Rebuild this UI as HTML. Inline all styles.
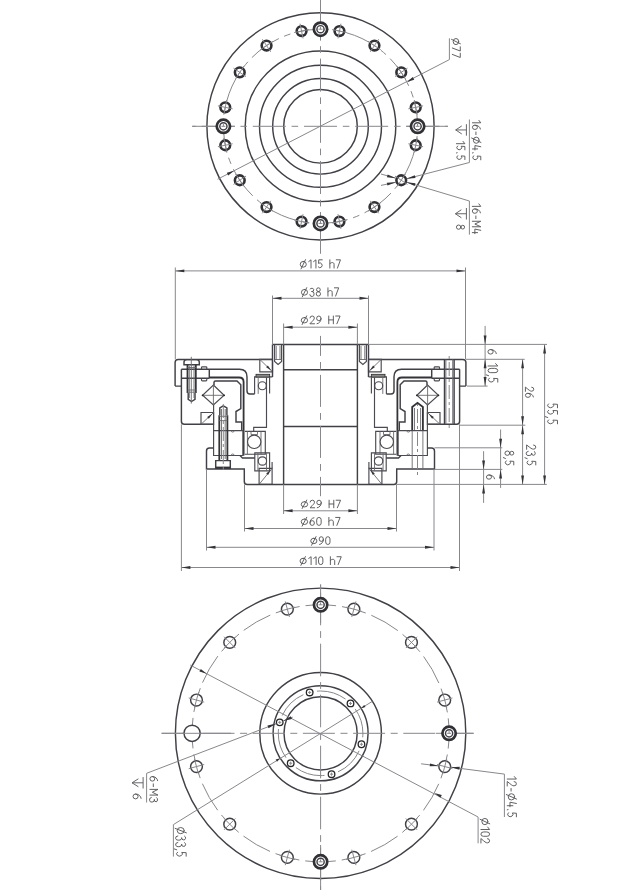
<!DOCTYPE html>
<html><head><meta charset="utf-8"><style>
html,body{margin:0;padding:0;background:#fff;}
svg{display:block;}
.k{stroke:#404046;stroke-width:1.45;fill:none;}
.k2{stroke:#333338;stroke-width:1.8;fill:none;}
.thin{stroke:#88888c;stroke-width:1.0;fill:none;}
.k1{stroke:#4a4a50;stroke-width:1.15;fill:none;}
.tk{stroke:#6a6a6e;stroke-width:0.9;fill:none;}
.thin2{stroke:#66666a;stroke-width:1.0;fill:none;}
.cl{stroke:#88888c;stroke-width:1.0;fill:none;}
.bc{stroke:#88888c;stroke-width:1.0;fill:none;stroke-dasharray:16 4;}
.bc2{stroke:#444;stroke-width:0.8;fill:none;stroke-dasharray:10 3.5;}
.ring{stroke:#303035;stroke-width:2.6;fill:none;}
.ring2{stroke:#222;stroke-width:2.2;fill:none;}
.dot{fill:#222;stroke:none;}
.ar{fill:#333338;stroke:none;}
.t{font-family:"Liberation Sans",sans-serif;fill:#505050;}
.sf path{fill:none;stroke:#58585c;stroke-width:0.95;vector-effect:non-scaling-stroke;stroke-linecap:round;stroke-linejoin:round;}
</style></head><body>
<svg width="629" height="890" viewBox="0 0 629 890">
<circle class="k" cx="320.5" cy="126.3" r="113.6"/>
<circle class="k" cx="320.5" cy="126.3" r="75.3"/>
<circle class="k" cx="320.5" cy="126.3" r="61"/>
<circle class="k" cx="320.5" cy="126.3" r="47.8"/>
<circle class="k" cx="320.5" cy="126.3" r="36.8"/>
<circle class="thin" cx="320.5" cy="126.3" r="97.1" stroke-dasharray="33 5.8 6.6 5.8" stroke-dashoffset="28.83"/>
<line class="cl" x1="192.2" y1="126.3" x2="447.9" y2="126.3" stroke-dasharray="33 5.8 6.6 5.8" stroke-dashoffset="41.8"/>
<line class="thin" x1="192.2" y1="126.3" x2="235" y2="126.3"/>
<line class="thin" x1="406" y1="126.3" x2="447.9" y2="126.3"/>
<line class="cl" x1="320.5" y1="0" x2="320.5" y2="253.4" stroke-dasharray="33 5.8 6.6 5.8" stroke-dashoffset="43.8"/>
<line class="thin" x1="320.5" y1="0" x2="320.5" y2="40.4"/>
<line class="thin" x1="320.5" y1="212" x2="320.5" y2="253.4"/>
<line class="thin" x1="217.61" y1="179.22" x2="449.4" y2="59.6"/>
<line class="thin" x1="449.4" y1="59.6" x2="449.4" y2="38.3"/>
<path class="ar" d="M234.15 170.71 L228.17 175.48 L226.8 172.81 Z"/>
<path class="ar" d="M406.85 81.89 L412.83 77.12 L414.2 79.79 Z"/>
<circle class="ring" cx="339.44" cy="31.07" r="4.85"/>
<line class="thin" x1="337.98" y1="38.42" x2="340.91" y2="23.71"/>
<line class="thin" x1="332.09" y1="29.6" x2="346.8" y2="32.53"/>
<circle class="ring" cx="374.45" cy="45.56" r="4.85"/>
<line class="thin" x1="370.28" y1="51.8" x2="378.61" y2="39.33"/>
<line class="thin" x1="368.21" y1="41.4" x2="380.68" y2="49.73"/>
<circle class="ring" cx="401.24" cy="72.35" r="4.85"/>
<line class="thin" x1="395" y1="76.52" x2="407.47" y2="68.19"/>
<line class="thin" x1="397.07" y1="66.12" x2="405.4" y2="78.59"/>
<circle class="ring" cx="415.73" cy="107.36" r="4.85"/>
<line class="thin" x1="408.38" y1="108.82" x2="423.09" y2="105.89"/>
<line class="thin" x1="414.27" y1="100" x2="417.2" y2="114.71"/>
<circle class="ring" cx="415.73" cy="145.24" r="4.85"/>
<line class="thin" x1="408.38" y1="143.78" x2="423.09" y2="146.71"/>
<line class="thin" x1="417.2" y1="137.89" x2="414.27" y2="152.6"/>
<circle class="ring" cx="401.24" cy="180.25" r="4.85"/>
<line class="thin" x1="395" y1="176.08" x2="407.47" y2="184.41"/>
<line class="thin" x1="405.4" y1="174.01" x2="397.07" y2="186.48"/>
<circle class="ring" cx="374.45" cy="207.04" r="4.85"/>
<line class="thin" x1="370.28" y1="200.8" x2="378.61" y2="213.27"/>
<line class="thin" x1="380.68" y1="202.87" x2="368.21" y2="211.2"/>
<circle class="ring" cx="339.44" cy="221.53" r="4.85"/>
<line class="thin" x1="337.98" y1="214.18" x2="340.91" y2="228.89"/>
<line class="thin" x1="346.8" y1="220.07" x2="332.09" y2="223"/>
<circle class="ring" cx="301.56" cy="221.53" r="4.85"/>
<line class="thin" x1="303.02" y1="214.18" x2="300.09" y2="228.89"/>
<line class="thin" x1="308.91" y1="223" x2="294.2" y2="220.07"/>
<circle class="ring" cx="266.55" cy="207.04" r="4.85"/>
<line class="thin" x1="270.72" y1="200.8" x2="262.39" y2="213.27"/>
<line class="thin" x1="272.79" y1="211.2" x2="260.32" y2="202.87"/>
<circle class="ring" cx="239.76" cy="180.25" r="4.85"/>
<line class="thin" x1="246" y1="176.08" x2="233.53" y2="184.41"/>
<line class="thin" x1="243.93" y1="186.48" x2="235.6" y2="174.01"/>
<circle class="ring" cx="225.27" cy="145.24" r="4.85"/>
<line class="thin" x1="232.62" y1="143.78" x2="217.91" y2="146.71"/>
<line class="thin" x1="226.73" y1="152.6" x2="223.8" y2="137.89"/>
<circle class="ring" cx="225.27" cy="107.36" r="4.85"/>
<line class="thin" x1="232.62" y1="108.82" x2="217.91" y2="105.89"/>
<line class="thin" x1="223.8" y1="114.71" x2="226.73" y2="100"/>
<circle class="ring" cx="239.76" cy="72.35" r="4.85"/>
<line class="thin" x1="246" y1="76.52" x2="233.53" y2="68.19"/>
<line class="thin" x1="235.6" y1="78.59" x2="243.93" y2="66.12"/>
<circle class="ring" cx="266.55" cy="45.56" r="4.85"/>
<line class="thin" x1="270.72" y1="51.8" x2="262.39" y2="39.33"/>
<line class="thin" x1="260.32" y1="49.73" x2="272.79" y2="41.4"/>
<circle class="ring" cx="301.56" cy="31.07" r="4.85"/>
<line class="thin" x1="303.02" y1="38.42" x2="300.09" y2="23.71"/>
<line class="thin" x1="294.2" y1="32.53" x2="308.91" y2="29.6"/>
<circle cx="320.5" cy="29.2" r="6.65" fill="#fff" stroke="#303035" stroke-width="2.7"/>
<circle class="k" cx="320.5" cy="29.2" r="3.6"/>
<line class="thin" x1="318.5" y1="29.2" x2="322.5" y2="29.2"/>
<line class="thin" x1="320.5" y1="26.7" x2="320.5" y2="29.2"/>
<circle cx="417.6" cy="126.3" r="6.65" fill="#fff" stroke="#303035" stroke-width="2.7"/>
<circle class="k" cx="417.6" cy="126.3" r="3.6"/>
<line class="thin" x1="415.6" y1="126.3" x2="419.6" y2="126.3"/>
<line class="thin" x1="417.6" y1="123.8" x2="417.6" y2="126.3"/>
<circle cx="320.5" cy="223.4" r="6.65" fill="#fff" stroke="#303035" stroke-width="2.7"/>
<circle class="k" cx="320.5" cy="223.4" r="3.6"/>
<line class="thin" x1="318.5" y1="223.4" x2="322.5" y2="223.4"/>
<line class="thin" x1="320.5" y1="220.9" x2="320.5" y2="223.4"/>
<circle cx="223.4" cy="126.3" r="6.65" fill="#fff" stroke="#303035" stroke-width="2.7"/>
<circle class="k" cx="223.4" cy="126.3" r="3.6"/>
<line class="thin" x1="221.4" y1="126.3" x2="225.4" y2="126.3"/>
<line class="thin" x1="223.4" y1="123.8" x2="223.4" y2="126.3"/>
<line class="thin" x1="406.74" y1="178.75" x2="469.4" y2="162.5"/>
<line class="thin" x1="469.4" y1="162.5" x2="469.4" y2="119.5"/>
<path class="ar" d="M406.44 178.85 L414.78 175.18 L415.51 177.99 Z"/>
<line class="thin" x1="406.74" y1="182.25" x2="469.4" y2="201"/>
<line class="thin" x1="469.4" y1="201" x2="469.4" y2="234.7"/>
<path class="ar" d="M406.44 182.15 L415.47 183.34 L414.64 186.12 Z"/>
<line class="thin" x1="381" y1="174" x2="395.94" y2="178.25"/>
<path class="ar" d="M395.94 178.25 L386.88 177.18 L387.68 174.39 Z"/>
<line class="thin" x1="381" y1="185.4" x2="395.94" y2="182.25"/>
<path class="ar" d="M395.94 182.25 L387.43 185.52 L386.83 182.69 Z"/>
<path class="thin2" d="M466.4 124.2 L466.4 135.7 M466.4 129.95 L455.7 129.95 M461.8 125.92 L455.7 129.95 L461.8 133.97"/>
<path class="thin2" d="M466.4 208 L466.4 219.5 M466.4 213.75 L455.4 213.75 M461.4 209.72 L455.4 213.75 L461.4 217.78"/>
<g id="half">
<path class="k" d="M175.1 386.1 L175.1 362.5 Q175.1 359.4 178.2 359.4 L272.5 359.4 M175.1 386.1 L181.4 386.1"/>
<path class="k" d="M181.4 369.3 L181.4 421.3 Q181.4 424.3 184.4 424.3 L214 424.3"/>
<path class="k" d="M181.4 369.3 L239.4 369.3 Q247 369.3 247 376.9 L247 391 Q247 393.9 250 393.9 L254.6 393.9"/>
<path class="k" d="M181.4 378.3 L209.3 378.3 M209.3 369.3 L209.3 378.3"/>
<path class="k2" d="M209.3 377.5 L239.1 377.5 Q243.6 377.5 243.6 382 L243.6 455.5"/>
<path class="k" d="M214 385 L214 382.6 Q214 381 215.6 381 L237 381 L240.8 384.8 L240.8 408.7 L236 411.5 L236 422 L241.7 422 L241.7 430.6"/>
<path class="k1" d="M201.5 369.3 L201.5 367.6 Q201.5 366.8 202.3 366.8 L206 366.8 Q206.8 366.8 206.8 367.6 L206.8 369.3"/>
<path class="k1" d="M201.5 378.3 L201.5 380 Q201.5 380.8 202.3 380.8 L206 380.8 Q206.8 380.8 206.8 380 L206.8 378.3"/>
<path class="k1" d="M213.4 385 L224.1 395.3 L213.4 405 L202.6 395.3 Z"/>
<line class="tk" x1="213.4" y1="385" x2="213.4" y2="405"/>
<line class="tk" x1="202.6" y1="395.3" x2="224.1" y2="395.3"/>
<line class="k1" x1="213.6" y1="405" x2="213.6" y2="430.6"/>
<circle class="dot" cx="202.6" cy="395.3" r="0.9"/>
<circle class="dot" cx="224.1" cy="395.3" r="0.9"/>
<path class="k1" d="M201 412.5 L213.6 412.5 L213.6 424.3 L201 424.3 Z"/>
<line class="tk" x1="201" y1="424.3" x2="213.6" y2="412.5"/>
<path class="ar" d="M212.4 413.7 L208.82 418.66 L207.19 416.91 Z"/>
<path class="k1" d="M259.8 359.4 L272.5 359.4 L272.5 371.8 L259.8 371.8 Z"/>
<line class="tk" x1="259.8" y1="359.4" x2="272.5" y2="371.8"/>
<path class="ar" d="M271.3 370.6 L266.16 367.27 L267.84 365.55 Z"/>
<path class="k1" d="M259.1 468.4 L272.1 468.4 L272.1 484.4 L259.1 484.4 Z"/>
<line class="tk" x1="259.1" y1="484.4" x2="272.1" y2="468.4"/>
<path class="ar" d="M270.9 469.6 L268.1 475.04 L266.22 473.54 Z"/>
<path class="k" d="M272.5 344.5 L320.5 344.5 M272.5 344.5 L272.5 377"/>
<line class="k" x1="283.6" y1="344.5" x2="283.6" y2="484.4"/>
<line class="k" x1="283.6" y1="369.7" x2="320.5" y2="369.7"/>
<line class="k" x1="283.6" y1="426.4" x2="320.5" y2="426.4"/>
<path class="k1" d="M274.6 344.5 L274.6 361.5 L278.1 364.5 L281.6 361.5 L281.6 344.5"/>
<line class="tk" x1="276.2" y1="346" x2="276.2" y2="360"/>
<line class="tk" x1="280" y1="346" x2="280" y2="360"/>
<line class="tk" x1="274.6" y1="359.5" x2="281.6" y2="359.5"/>
<path class="k1" d="M254.6 393.9 L254.6 376.9 L272.5 376.9"/>
<rect x="256" y="374.3" width="13.7" height="2.8" fill="#8a8a8a" stroke="#2a2a2a" stroke-width="0.8"/>
<line class="tk" x1="258.2" y1="377.3" x2="258.2" y2="393.9"/>
<line class="k1" x1="269.6" y1="377.3" x2="269.6" y2="393.5"/>
<path class="k1" d="M266.5 377.3 L266.5 427.3 L253.7 427.3 L253.7 431.3"/>
<circle class="k1" cx="262.3" cy="385.7" r="4"/>
<path class="k1" d="M244.9 431.3 L265.3 431.3 L265.3 454.2 L244.9 454.2"/>
<line class="tk" x1="247.4" y1="431.3" x2="247.4" y2="454.2"/>
<line class="tk" x1="261" y1="431.3" x2="261" y2="454.2"/>
<circle cx="254.2" cy="441.8" r="6.7" fill="#fff" stroke="#4a4a50" stroke-width="1.15"/>
<path class="tk" d="M251 431.3 L251 434.5 L257.5 434.5 L257.5 431.3"/>
<path class="k1" d="M254.8 452.9 L269.6 452.9 L269.6 470.9 L254.8 470.9 Z"/>
<line class="tk" x1="257.9" y1="452.9" x2="257.9" y2="470.9"/>
<line class="tk" x1="266.5" y1="452.9" x2="266.5" y2="470.9"/>
<circle class="k1" cx="262.4" cy="461" r="4.2"/>
<line class="k1" x1="272.1" y1="468.4" x2="272.1" y2="462"/>
<path class="k1" d="M213.6 430.6 L243 430.6 L243 455.5 L213.6 455.5 Z"/>
<path class="tk" d="M231.2 430.6 A1.5 1.5 0 0 0 234.2 430.6"/>
<path class="tk" d="M231.2 455.5 A1.5 1.5 0 0 1 234.2 455.5"/>
<path class="k" d="M213.6 447.9 L209.5 447.9 Q206.5 447.9 206.5 450.9 L206.5 468.9 L244.3 468.9 L244.3 481.4 Q244.3 484.4 247.3 484.4 L320.5 484.4"/>
<path class="k" d="M240 455.5 L242.5 457.9 L254.8 457.9"/>
</g>
<use href="#half" transform="translate(641,0) scale(-1,1)"/>
<path class="k" d="M184 364.7 L184 362 Q184 359.6 187 359.6 L196.3 359.6 Q199.3 359.6 199.3 362 L199.3 364.7 Z"/>
<path class="k2" d="M187.5 364.7 L187.5 392.9 M195.8 364.7 L195.8 392.9"/>
<path class="k" d="M188.2 392.9 L188.2 399.4 L191.5 401.5 L195 399.4 L195 392.9"/>
<line class="tk" x1="189.3" y1="366" x2="189.3" y2="398"/>
<line class="tk" x1="194" y1="366" x2="194" y2="398"/>
<line class="tk" x1="187.5" y1="390" x2="195.8" y2="390"/>
<line class="tk" x1="187.5" y1="392.2" x2="195.8" y2="392.2"/>
<line class="tk" x1="187.5" y1="367.5" x2="195.8" y2="367.5"/>
<line class="tk" x1="191.3" y1="356.8" x2="191.3" y2="403.6"/>
<path class="k2" d="M219.3 460.6 L219.3 415.3 M227.4 460.6 L227.4 415.3"/>
<path class="k" d="M219.8 415.3 L219.8 408 L223.3 405.8 L226.9 408 L226.9 415.3"/>
<line class="tk" x1="221.5" y1="409" x2="221.5" y2="459"/>
<line class="tk" x1="225.2" y1="409" x2="225.2" y2="459"/>
<line class="tk" x1="219.3" y1="416.3" x2="227.4" y2="416.3"/>
<line class="tk" x1="219.3" y1="420.6" x2="227.4" y2="420.6"/>
<path class="k" d="M215.7 460.6 L230.3 460.6 L230.3 468.2 L215.7 468.2 Z"/>
<line class="k2" x1="215.7" y1="467.5" x2="230.3" y2="467.5"/>
<line class="cl" x1="223.3" y1="404" x2="223.3" y2="472" stroke-dasharray="14 3 3 3" stroke-dashoffset="0"/>
<path class="k2" d="M412.2 430.6 L412.2 407 L417.5 402.9 L422.9 407 L422.9 430.6"/>
<line class="tk" x1="414.5" y1="408" x2="414.5" y2="430"/>
<line class="tk" x1="420.6" y1="408" x2="420.6" y2="430"/>
<line class="tk" x1="412.2" y1="430.6" x2="412.2" y2="469.4"/>
<line class="tk" x1="422.9" y1="430.6" x2="422.9" y2="469.4"/>
<line class="cl" x1="417.5" y1="404" x2="417.5" y2="475" stroke-dasharray="14 3 3 3" stroke-dashoffset="18"/>
<line class="k" x1="444.5" y1="359.4" x2="444.5" y2="424.3"/>
<line class="k" x1="454.1" y1="359.4" x2="454.1" y2="424.3"/>
<line class="tk" x1="445.9" y1="359.4" x2="445.9" y2="424.3"/>
<line class="tk" x1="452.7" y1="359.4" x2="452.7" y2="424.3"/>
<line class="cl" x1="449.2" y1="354" x2="449.2" y2="430" stroke-dasharray="14 3 3 3" stroke-dashoffset="15"/>
<line class="cl" x1="320.5" y1="335.9" x2="320.5" y2="496.2" stroke-dasharray="32 6.1 6.8 6.1" stroke-dashoffset="12"/>
<line class="thin" x1="320.5" y1="250" x2="320.5" y2="253.4"/>
<line class="thin" x1="175.3" y1="267.5" x2="175.3" y2="359.4"/>
<line class="thin" x1="465.5" y1="267.5" x2="465.5" y2="359.3"/>
<line class="thin" x1="175.3" y1="270.9" x2="465.5" y2="270.9"/>
<path class="ar" d="M175.3 270.9 L184.3 269.45 L184.3 272.35 Z"/>
<path class="ar" d="M465.5 270.9 L456.5 272.35 L456.5 269.45 Z"/>
<line class="thin" x1="272.5" y1="295.5" x2="272.5" y2="344.5"/>
<line class="thin" x1="368.5" y1="295.5" x2="368.5" y2="344.5"/>
<line class="thin" x1="272.5" y1="298.3" x2="368.5" y2="298.3"/>
<path class="ar" d="M272.5 298.3 L281.5 296.85 L281.5 299.75 Z"/>
<path class="ar" d="M368.5 298.3 L359.5 299.75 L359.5 296.85 Z"/>
<line class="thin" x1="283.6" y1="323.5" x2="283.6" y2="344.5"/>
<line class="thin" x1="357.4" y1="323.5" x2="357.4" y2="344.5"/>
<line class="thin" x1="283.6" y1="327.2" x2="357.4" y2="327.2"/>
<path class="ar" d="M283.6 327.2 L292.6 325.75 L292.6 328.65 Z"/>
<path class="ar" d="M357.4 327.2 L348.4 328.65 L348.4 325.75 Z"/>
<line class="thin" x1="283.6" y1="484.4" x2="283.6" y2="514"/>
<line class="thin" x1="357.4" y1="484.4" x2="357.4" y2="514"/>
<line class="thin" x1="283.6" y1="510.8" x2="357.4" y2="510.8"/>
<path class="ar" d="M283.6 510.8 L292.6 509.35 L292.6 512.25 Z"/>
<path class="ar" d="M357.4 510.8 L348.4 512.25 L348.4 509.35 Z"/>
<line class="thin" x1="244.5" y1="484.4" x2="244.5" y2="531.5"/>
<line class="thin" x1="396.5" y1="484.4" x2="396.5" y2="531.5"/>
<line class="thin" x1="244.5" y1="528.5" x2="396.5" y2="528.5"/>
<path class="ar" d="M244.5 528.5 L253.5 527.05 L253.5 529.95 Z"/>
<path class="ar" d="M396.5 528.5 L387.5 529.95 L387.5 527.05 Z"/>
<line class="thin" x1="206.5" y1="468.9" x2="206.5" y2="550.5"/>
<line class="thin" x1="434" y1="469.4" x2="434" y2="550.5"/>
<line class="thin" x1="206.5" y1="547.3" x2="434" y2="547.3"/>
<path class="ar" d="M206.5 547.3 L215.5 545.85 L215.5 548.75 Z"/>
<path class="ar" d="M434 547.3 L425 548.75 L425 545.85 Z"/>
<line class="thin" x1="181.4" y1="424.3" x2="181.4" y2="571"/>
<line class="thin" x1="459.5" y1="424.3" x2="459.5" y2="571"/>
<line class="thin" x1="181.4" y1="567.5" x2="459.5" y2="567.5"/>
<path class="ar" d="M181.4 567.5 L190.4 566.05 L190.4 568.95 Z"/>
<path class="ar" d="M459.5 567.5 L450.5 568.95 L450.5 566.05 Z"/>
<line class="thin" x1="368.5" y1="344.4" x2="547" y2="344.4"/>
<line class="thin" x1="465.8" y1="359.3" x2="524.7" y2="359.3"/>
<line class="thin" x1="466.9" y1="386.1" x2="487.6" y2="386.1"/>
<line class="thin" x1="459.5" y1="425.2" x2="525.3" y2="425.2"/>
<line class="thin" x1="434.5" y1="447.8" x2="502.3" y2="447.8"/>
<line class="thin" x1="434.5" y1="469.4" x2="502.3" y2="469.4"/>
<line class="thin" x1="396.5" y1="484.4" x2="546.8" y2="484.4"/>
<line class="thin" x1="485.1" y1="325.9" x2="485.1" y2="386.1"/>
<path class="ar" d="M485.1 344.4 L483.65 335.4 L486.55 335.4 Z"/>
<path class="ar" d="M485.1 359.3 L486.55 368.3 L483.65 368.3 Z"/>
<path class="ar" d="M485.1 386.1 L483.65 377.1 L486.55 377.1 Z"/>
<line class="thin" x1="522.6" y1="359.3" x2="522.6" y2="425.2"/>
<path class="ar" d="M522.6 359.3 L524.05 368.3 L521.15 368.3 Z"/>
<path class="ar" d="M522.6 425.2 L521.15 416.2 L524.05 416.2 Z"/>
<line class="thin" x1="544.6" y1="344.4" x2="544.6" y2="484.4"/>
<path class="ar" d="M544.6 344.4 L546.05 353.4 L543.15 353.4 Z"/>
<path class="ar" d="M544.6 484.4 L543.15 475.4 L546.05 475.4 Z"/>
<line class="thin" x1="522.6" y1="425.2" x2="522.6" y2="484.4"/>
<path class="ar" d="M522.6 425.2 L524.05 434.2 L521.15 434.2 Z"/>
<path class="ar" d="M522.6 484.4 L521.15 475.4 L524.05 475.4 Z"/>
<line class="thin" x1="500.6" y1="429.5" x2="500.6" y2="487.9"/>
<path class="ar" d="M500.6 447.8 L499.15 438.8 L502.05 438.8 Z"/>
<path class="ar" d="M500.6 469.4 L502.05 478.4 L499.15 478.4 Z"/>
<line class="thin" x1="483.6" y1="451.2" x2="483.6" y2="502.9"/>
<path class="ar" d="M483.6 469.4 L482.15 460.4 L485.05 460.4 Z"/>
<path class="ar" d="M483.6 484.4 L485.05 493.4 L482.15 493.4 Z"/>
<circle class="k" cx="320.6" cy="733.3" r="145.2"/>
<circle class="k" cx="320.6" cy="733.3" r="60.8"/>
<circle class="k" cx="320.6" cy="733.3" r="47.5"/>
<circle class="k" cx="320.6" cy="733.3" r="36.6"/>
<circle class="thin" cx="320.6" cy="733.3" r="128.5" stroke-dasharray="24.6 6 30.68 6" stroke-dashoffset="45.94"/>
<circle class="thin" cx="320.6" cy="733.3" r="42.3" stroke-dasharray="7 3.5 30.30 3.5" stroke-dashoffset="36.72"/>
<line class="cl" x1="161.6" y1="733.3" x2="473.6" y2="733.3" stroke-dasharray="32 5.6 7 5.6" stroke-dashoffset="9.3"/>
<line class="thin" x1="161.6" y1="733.3" x2="231" y2="733.3"/>
<line class="thin" x1="436" y1="733.3" x2="473.6" y2="733.3"/>
<line class="cl" x1="320.6" y1="584.5" x2="320.6" y2="890" stroke-dasharray="32.6 5.8 6.8 5.8" stroke-dashoffset="42.8"/>
<line class="thin" x1="320.6" y1="584.5" x2="320.6" y2="623"/>
<line class="thin" x1="320.6" y1="845" x2="320.6" y2="890"/>
<circle cx="353.86" cy="609.18" r="5.9" fill="#fff" stroke="#404046" stroke-width="1.45"/>
<line class="thin" x1="351.79" y1="616.91" x2="355.93" y2="601.45"/>
<line class="thin" x1="346.13" y1="607.11" x2="361.59" y2="611.25"/>
<circle cx="411.46" cy="642.44" r="5.9" fill="#fff" stroke="#404046" stroke-width="1.45"/>
<line class="thin" x1="405.81" y1="648.09" x2="417.12" y2="636.78"/>
<line class="thin" x1="405.81" y1="636.78" x2="417.12" y2="648.09"/>
<circle cx="444.72" cy="700.04" r="5.9" fill="#fff" stroke="#404046" stroke-width="1.45"/>
<line class="thin" x1="436.99" y1="702.11" x2="452.45" y2="697.97"/>
<line class="thin" x1="442.65" y1="692.31" x2="446.79" y2="707.77"/>
<circle cx="444.72" cy="766.56" r="5.9" fill="#fff" stroke="#404046" stroke-width="1.45"/>
<line class="thin" x1="436.99" y1="764.49" x2="452.45" y2="768.63"/>
<line class="thin" x1="446.79" y1="758.83" x2="442.65" y2="774.29"/>
<circle cx="411.46" cy="824.16" r="5.9" fill="#fff" stroke="#404046" stroke-width="1.45"/>
<line class="thin" x1="405.81" y1="818.51" x2="417.12" y2="829.82"/>
<line class="thin" x1="417.12" y1="818.51" x2="405.81" y2="829.82"/>
<circle cx="353.86" cy="857.42" r="5.9" fill="#fff" stroke="#404046" stroke-width="1.45"/>
<line class="thin" x1="351.79" y1="849.69" x2="355.93" y2="865.15"/>
<line class="thin" x1="361.59" y1="855.35" x2="346.13" y2="859.49"/>
<circle cx="287.34" cy="857.42" r="5.9" fill="#fff" stroke="#404046" stroke-width="1.45"/>
<line class="thin" x1="289.41" y1="849.69" x2="285.27" y2="865.15"/>
<line class="thin" x1="295.07" y1="859.49" x2="279.61" y2="855.35"/>
<circle cx="229.74" cy="824.16" r="5.9" fill="#fff" stroke="#404046" stroke-width="1.45"/>
<line class="thin" x1="235.39" y1="818.51" x2="224.08" y2="829.82"/>
<line class="thin" x1="235.39" y1="829.82" x2="224.08" y2="818.51"/>
<circle cx="196.48" cy="766.56" r="5.9" fill="#fff" stroke="#404046" stroke-width="1.45"/>
<line class="thin" x1="204.21" y1="764.49" x2="188.75" y2="768.63"/>
<line class="thin" x1="198.55" y1="774.29" x2="194.41" y2="758.83"/>
<circle cx="196.48" cy="700.04" r="5.9" fill="#fff" stroke="#404046" stroke-width="1.45"/>
<line class="thin" x1="204.21" y1="702.11" x2="188.75" y2="697.97"/>
<line class="thin" x1="194.41" y1="707.77" x2="198.55" y2="692.31"/>
<circle cx="229.74" cy="642.44" r="5.9" fill="#fff" stroke="#404046" stroke-width="1.45"/>
<line class="thin" x1="235.39" y1="648.09" x2="224.08" y2="636.78"/>
<line class="thin" x1="224.08" y1="648.09" x2="235.39" y2="636.78"/>
<circle cx="287.34" cy="609.18" r="5.9" fill="#fff" stroke="#404046" stroke-width="1.45"/>
<line class="thin" x1="289.41" y1="616.91" x2="285.27" y2="601.45"/>
<line class="thin" x1="279.61" y1="611.25" x2="295.07" y2="607.11"/>
<circle cx="320.6" cy="604.8" r="6.65" fill="#fff" stroke="#303035" stroke-width="2.7"/>
<circle class="k" cx="320.6" cy="604.8" r="3.6"/>
<line class="thin" x1="318.6" y1="604.8" x2="322.6" y2="604.8"/>
<line class="thin" x1="320.6" y1="602.3" x2="320.6" y2="604.8"/>
<circle cx="320.6" cy="861.8" r="6.65" fill="#fff" stroke="#303035" stroke-width="2.7"/>
<circle class="k" cx="320.6" cy="861.8" r="3.6"/>
<line class="thin" x1="318.6" y1="861.8" x2="322.6" y2="861.8"/>
<line class="thin" x1="320.6" y1="859.3" x2="320.6" y2="861.8"/>
<circle cx="449.1" cy="733.3" r="6.65" fill="#fff" stroke="#303035" stroke-width="2.7"/>
<circle class="k" cx="449.1" cy="733.3" r="3.6"/>
<line class="thin" x1="447.1" y1="733.3" x2="451.1" y2="733.3"/>
<line class="thin" x1="449.1" y1="730.8" x2="449.1" y2="733.3"/>
<circle cx="192.1" cy="733.3" r="8.1" fill="#fff" stroke="#404046" stroke-width="1.45"/>
<line class="thin" x1="182.1" y1="733.3" x2="202.1" y2="733.3"/>
<circle cx="350.51" cy="703.39" r="3.3" fill="#fff" stroke="#262626" stroke-width="1.3"/>
<line class="thin" x1="348.91" y1="703.39" x2="352.11" y2="703.39"/>
<line class="thin" x1="350.51" y1="701.79" x2="350.51" y2="704.99"/>
<circle cx="361.46" cy="744.25" r="3.3" fill="#fff" stroke="#262626" stroke-width="1.3"/>
<line class="thin" x1="359.86" y1="744.25" x2="363.06" y2="744.25"/>
<line class="thin" x1="361.46" y1="742.65" x2="361.46" y2="745.85"/>
<circle cx="331.55" cy="774.16" r="3.3" fill="#fff" stroke="#262626" stroke-width="1.3"/>
<line class="thin" x1="329.95" y1="774.16" x2="333.15" y2="774.16"/>
<line class="thin" x1="331.55" y1="772.56" x2="331.55" y2="775.76"/>
<circle cx="290.69" cy="763.21" r="3.3" fill="#fff" stroke="#262626" stroke-width="1.3"/>
<line class="thin" x1="289.09" y1="763.21" x2="292.29" y2="763.21"/>
<line class="thin" x1="290.69" y1="761.61" x2="290.69" y2="764.81"/>
<circle cx="279.74" cy="722.35" r="3.3" fill="#fff" stroke="#262626" stroke-width="1.3"/>
<line class="thin" x1="278.14" y1="722.35" x2="281.34" y2="722.35"/>
<line class="thin" x1="279.74" y1="720.75" x2="279.74" y2="723.95"/>
<circle cx="309.65" cy="692.44" r="3.3" fill="#fff" stroke="#262626" stroke-width="1.3"/>
<line class="thin" x1="308.05" y1="692.44" x2="311.25" y2="692.44"/>
<line class="thin" x1="309.65" y1="690.84" x2="309.65" y2="694.04"/>
<line class="thin" x1="190.3" y1="665.1" x2="478.1" y2="817"/>
<line class="thin" x1="478.1" y1="817" x2="478.1" y2="843.3"/>
<path class="ar" d="M206.75 673.71 L199.41 671.56 L200.8 668.9 Z"/>
<path class="ar" d="M434.45 792.89 L441.79 795.04 L440.4 797.7 Z"/>
<line class="thin" x1="173.4" y1="824.6" x2="372.34" y2="701.37"/>
<line class="thin" x1="173.4" y1="824.6" x2="173.4" y2="856.6"/>
<path class="ar" d="M280.18 758.24 L277.03 761.71 L275.66 759.5 Z"/>
<path class="ar" d="M361.02 708.36 L364.17 704.89 L365.54 707.1 Z"/>
<line class="thin" x1="146.6" y1="773.3" x2="276.34" y2="723.65"/>
<path class="ar" d="M276.44 723.55 L268.56 728.13 L267.52 725.42 Z"/>
<line class="thin" x1="146.6" y1="773.3" x2="146.6" y2="802.5"/>
<line class="thin" x1="283.24" y1="720.95" x2="292.74" y2="717.15"/>
<path class="ar" d="M283.04 721.05 L290.85 716.35 L291.93 719.04 Z"/>
<path class="thin2" d="M143.1 777.1 L143.1 788.5 M143.1 782.8 L132 782.8 M138.4 778.81 L132 782.8 L138.4 786.79"/>
<line class="thin" x1="450.62" y1="767.16" x2="504.4" y2="774.1"/>
<line class="thin" x1="504.4" y1="774.1" x2="504.4" y2="817"/>
<path class="ar" d="M450.62 767.16 L459.73 766.87 L459.36 769.75 Z"/>
<line class="thin" x1="421.1" y1="763.8" x2="438.82" y2="765.96"/>
<path class="ar" d="M438.82 765.96 L429.71 766.31 L430.06 763.43 Z"/>
<g class="sf" transform="translate(452.32,38.52) rotate(90) scale(8.4598,7.9500)"><path transform="translate(0.000,0)" d="M0.36 -0.81 A0.36 0.35 0 1 1 0.36 -0.11 A0.36 0.35 0 1 1 0.36 -0.81 M0.1 0.1 L0.62 -1.02"/><path transform="translate(0.980,0)" d="M0 -1 L0.5 -1 L0.14 0"/><path transform="translate(1.740,0)" d="M0 -1 L0.5 -1 L0.14 0"/></g>
<g class="sf" transform="translate(472.43,120.22) rotate(90) scale(8.5515,8.3500)"><path transform="translate(0.000,0)" d="M0.02 -0.78 L0.3 -1 L0.3 0"/><path transform="translate(0.580,0)" d="M0.45 -0.96 C0.2 -0.92 0.0 -0.66 0.0 -0.3 A0.25 0.3 0 0 0 0.5 -0.3 A0.25 0.3 0 0 0 0.0 -0.3"/><path transform="translate(1.340,0)" d="M0.04 -0.42 L0.34 -0.42"/><path transform="translate(1.980,0)" d="M0.36 -0.81 A0.36 0.35 0 1 1 0.36 -0.11 A0.36 0.35 0 1 1 0.36 -0.81 M0.1 0.1 L0.62 -1.02"/><path transform="translate(2.960,0)" d="M0.14 -1 L0.0 -0.3 L0.52 -0.3 M0.4 -0.62 L0.4 0"/><path transform="translate(3.740,0)" d="M0.06 -0.09 L0.09 0"/><path transform="translate(4.160,0)" d="M0.47 -1 L0.06 -1 L0.03 -0.56 A0.26 0.29 0 1 1 0.0 -0.14"/></g>
<g class="sf" transform="translate(456.43,141.23) rotate(90) scale(8.2080,8.4500)"><path transform="translate(0.000,0)" d="M0.02 -0.78 L0.3 -1 L0.3 0"/><path transform="translate(0.580,0)" d="M0.47 -1 L0.06 -1 L0.03 -0.56 A0.26 0.29 0 1 1 0.0 -0.14"/><path transform="translate(1.340,0)" d="M0.06 -0.09 L0.09 0"/><path transform="translate(1.760,0)" d="M0.47 -1 L0.06 -1 L0.03 -0.56 A0.26 0.29 0 1 1 0.0 -0.14"/></g>
<g class="sf" transform="translate(472.32,203.73) rotate(90) scale(8.8609,8.4500)"><path transform="translate(0.000,0)" d="M0.02 -0.78 L0.3 -1 L0.3 0"/><path transform="translate(0.580,0)" d="M0.45 -0.96 C0.2 -0.92 0.0 -0.66 0.0 -0.3 A0.25 0.3 0 0 0 0.5 -0.3 A0.25 0.3 0 0 0 0.0 -0.3"/><path transform="translate(1.340,0)" d="M0.04 -0.42 L0.34 -0.42"/><path transform="translate(1.980,0)" d="M0 0 L0 -1 L0.31 -0.3 L0.62 -1 L0.62 0"/><path transform="translate(2.860,0)" d="M0.14 -1 L0.0 -0.3 L0.52 -0.3 M0.4 -0.62 L0.4 0"/></g>
<g class="sf" transform="translate(456.43,225.03) rotate(90) scale(8.5000,8.1500)"><path transform="translate(0.000,0)" d="M0.25 -0.54 A0.22 0.23 0 1 1 0.25 -1 A0.22 0.23 0 1 1 0.25 -0.54 A0.25 0.27 0 1 0 0.25 0 A0.25 0.27 0 1 0 0.25 -0.54 Z"/></g>
<g class="sf" transform="translate(300.23,268.07) scale(8.4382,8.2500)"><path transform="translate(0.000,0)" d="M0.36 -0.81 A0.36 0.35 0 1 1 0.36 -0.11 A0.36 0.35 0 1 1 0.36 -0.81 M0.1 0.1 L0.62 -1.02"/><path transform="translate(0.980,0)" d="M0.02 -0.78 L0.3 -1 L0.3 0"/><path transform="translate(1.560,0)" d="M0.02 -0.78 L0.3 -1 L0.3 0"/><path transform="translate(2.140,0)" d="M0.47 -1 L0.06 -1 L0.03 -0.56 A0.26 0.29 0 1 1 0.0 -0.14"/><path transform="translate(3.510,0)" d="M0 -1 L0 0 M0 -0.52 C0.1 -0.72 0.5 -0.76 0.5 -0.45 L0.5 0"/><path transform="translate(4.270,0)" d="M0 -1 L0.5 -1 L0.14 0"/></g>
<g class="sf" transform="translate(301.43,296.07) scale(8.5240,8.2500)"><path transform="translate(0.000,0)" d="M0.36 -0.81 A0.36 0.35 0 1 1 0.36 -0.11 A0.36 0.35 0 1 1 0.36 -0.81 M0.1 0.1 L0.62 -1.02"/><path transform="translate(0.980,0)" d="M0.02 -0.84 A0.24 0.2 0 0 1 0.47 -0.77 A0.23 0.23 0 0 1 0.2 -0.55 A0.26 0.28 0 0 1 0.5 -0.27 A0.25 0.27 0 0 1 0.0 -0.17"/><path transform="translate(1.740,0)" d="M0.25 -0.54 A0.22 0.23 0 1 1 0.25 -1 A0.22 0.23 0 1 1 0.25 -0.54 A0.25 0.27 0 1 0 0.25 0 A0.25 0.27 0 1 0 0.25 -0.54 Z"/><path transform="translate(3.110,0)" d="M0 -1 L0 0 M0 -0.52 C0.1 -0.72 0.5 -0.76 0.5 -0.45 L0.5 0"/><path transform="translate(3.870,0)" d="M0 -1 L0.5 -1 L0.14 0"/></g>
<g class="sf" transform="translate(301.23,323.77) scale(8.8497,7.7500)"><path transform="translate(0.000,0)" d="M0.36 -0.81 A0.36 0.35 0 1 1 0.36 -0.11 A0.36 0.35 0 1 1 0.36 -0.81 M0.1 0.1 L0.62 -1.02"/><path transform="translate(0.980,0)" d="M0.01 -0.76 A0.245 0.25 0 0 1 0.5 -0.74 C0.5 -0.56 0.38 -0.45 0.0 0 L0.52 0"/><path transform="translate(1.740,0)" d="M0.5 -0.7 A0.25 0.3 0 0 0 0.0 -0.7 A0.25 0.3 0 0 0 0.5 -0.7 C0.5 -0.34 0.3 -0.04 0.05 0"/><path transform="translate(3.110,0)" d="M0 -1 L0 0 M0.52 -1 L0.52 0 M0 -0.5 L0.52 -0.5"/><path transform="translate(3.890,0)" d="M0 -1 L0.5 -1 L0.14 0"/></g>
<g class="sf" transform="translate(301.23,507.77) scale(8.9636,7.5500)"><path transform="translate(0.000,0)" d="M0.36 -0.81 A0.36 0.35 0 1 1 0.36 -0.11 A0.36 0.35 0 1 1 0.36 -0.81 M0.1 0.1 L0.62 -1.02"/><path transform="translate(0.980,0)" d="M0.01 -0.76 A0.245 0.25 0 0 1 0.5 -0.74 C0.5 -0.56 0.38 -0.45 0.0 0 L0.52 0"/><path transform="translate(1.740,0)" d="M0.5 -0.7 A0.25 0.3 0 0 0 0.0 -0.7 A0.25 0.3 0 0 0 0.5 -0.7 C0.5 -0.34 0.3 -0.04 0.05 0"/><path transform="translate(3.110,0)" d="M0 -1 L0 0 M0.52 -1 L0.52 0 M0 -0.5 L0.52 -0.5"/><path transform="translate(3.890,0)" d="M0 -1 L0.5 -1 L0.14 0"/></g>
<g class="sf" transform="translate(301.23,525.38) scale(8.8902,7.9500)"><path transform="translate(0.000,0)" d="M0.36 -0.81 A0.36 0.35 0 1 1 0.36 -0.11 A0.36 0.35 0 1 1 0.36 -0.81 M0.1 0.1 L0.62 -1.02"/><path transform="translate(0.980,0)" d="M0.45 -0.96 C0.2 -0.92 0.0 -0.66 0.0 -0.3 A0.25 0.3 0 0 0 0.5 -0.3 A0.25 0.3 0 0 0 0.0 -0.3"/><path transform="translate(1.740,0)" d="M0 -0.72 A0.25 0.28 0 0 1 0.5 -0.72 L0.5 -0.28 A0.25 0.28 0 0 1 0 -0.28 Z"/><path transform="translate(3.110,0)" d="M0 -1 L0 0 M0 -0.52 C0.1 -0.72 0.5 -0.76 0.5 -0.45 L0.5 0"/><path transform="translate(3.870,0)" d="M0 -1 L0.5 -1 L0.14 0"/></g>
<g class="sf" transform="translate(310.73,544.48) scale(8.5937,7.7500)"><path transform="translate(0.000,0)" d="M0.36 -0.81 A0.36 0.35 0 1 1 0.36 -0.11 A0.36 0.35 0 1 1 0.36 -0.81 M0.1 0.1 L0.62 -1.02"/><path transform="translate(0.980,0)" d="M0.5 -0.7 A0.25 0.3 0 0 0 0.0 -0.7 A0.25 0.3 0 0 0 0.5 -0.7 C0.5 -0.34 0.3 -0.04 0.05 0"/><path transform="translate(1.740,0)" d="M0 -0.72 A0.25 0.28 0 0 1 0.5 -0.72 L0.5 -0.28 A0.25 0.28 0 0 1 0 -0.28 Z"/></g>
<g class="sf" transform="translate(300.03,564.58) scale(8.6478,7.8500)"><path transform="translate(0.000,0)" d="M0.36 -0.81 A0.36 0.35 0 1 1 0.36 -0.11 A0.36 0.35 0 1 1 0.36 -0.81 M0.1 0.1 L0.62 -1.02"/><path transform="translate(0.980,0)" d="M0.02 -0.78 L0.3 -1 L0.3 0"/><path transform="translate(1.560,0)" d="M0.02 -0.78 L0.3 -1 L0.3 0"/><path transform="translate(2.140,0)" d="M0 -0.72 A0.25 0.28 0 0 1 0.5 -0.72 L0.5 -0.28 A0.25 0.28 0 0 1 0 -0.28 Z"/><path transform="translate(3.510,0)" d="M0 -1 L0 0 M0 -0.52 C0.1 -0.72 0.5 -0.76 0.5 -0.45 L0.5 0"/><path transform="translate(4.270,0)" d="M0 -1 L0.5 -1 L0.14 0"/></g>
<g class="sf" transform="translate(487.93,349.53) rotate(90) scale(9.1000,8.7500)"><path transform="translate(0.000,0)" d="M0.45 -0.96 C0.2 -0.92 0.0 -0.66 0.0 -0.3 A0.25 0.3 0 0 0 0.5 -0.3 A0.25 0.3 0 0 0 0.0 -0.3"/></g>
<g class="sf" transform="translate(488.03,363.43) rotate(90) scale(8.5360,9.7500)"><path transform="translate(0.000,0)" d="M0.02 -0.78 L0.3 -1 L0.3 0"/><path transform="translate(0.580,0)" d="M0 -0.72 A0.25 0.28 0 0 1 0.5 -0.72 L0.5 -0.28 A0.25 0.28 0 0 1 0 -0.28 Z"/><path transform="translate(1.340,0)" d="M0.1 -0.06 L0.0 0.18"/><path transform="translate(1.720,0)" d="M0.47 -1 L0.06 -1 L0.03 -0.56 A0.26 0.29 0 1 1 0.0 -0.14"/></g>
<g class="sf" transform="translate(525.42,387.12) rotate(90) scale(8.1349,8.3500)"><path transform="translate(0.000,0)" d="M0.01 -0.76 A0.245 0.25 0 0 1 0.5 -0.74 C0.5 -0.56 0.38 -0.45 0.0 0 L0.52 0"/><path transform="translate(0.760,0)" d="M0.45 -0.96 C0.2 -0.92 0.0 -0.66 0.0 -0.3 A0.25 0.3 0 0 0 0.5 -0.3 A0.25 0.3 0 0 0 0.0 -0.3"/></g>
<g class="sf" transform="translate(547.12,403.82) rotate(90) scale(8.4375,10.3500)"><path transform="translate(0.000,0)" d="M0.47 -1 L0.06 -1 L0.03 -0.56 A0.26 0.29 0 1 1 0.0 -0.14"/><path transform="translate(0.760,0)" d="M0.47 -1 L0.06 -1 L0.03 -0.56 A0.26 0.29 0 1 1 0.0 -0.14"/><path transform="translate(1.520,0)" d="M0.1 -0.06 L0.0 0.18"/><path transform="translate(1.900,0)" d="M0.47 -1 L0.06 -1 L0.03 -0.56 A0.26 0.29 0 1 1 0.0 -0.14"/></g>
<g class="sf" transform="translate(526.62,444.93) rotate(90) scale(8.4375,9.1500)"><path transform="translate(0.000,0)" d="M0.01 -0.76 A0.245 0.25 0 0 1 0.5 -0.74 C0.5 -0.56 0.38 -0.45 0.0 0 L0.52 0"/><path transform="translate(0.760,0)" d="M0.02 -0.84 A0.24 0.2 0 0 1 0.47 -0.77 A0.23 0.23 0 0 1 0.2 -0.55 A0.26 0.28 0 0 1 0.5 -0.27 A0.25 0.27 0 0 1 0.0 -0.17"/><path transform="translate(1.520,0)" d="M0.1 -0.06 L0.0 0.18"/><path transform="translate(1.900,0)" d="M0.47 -1 L0.06 -1 L0.03 -0.56 A0.26 0.29 0 1 1 0.0 -0.14"/></g>
<g class="sf" transform="translate(504.93,451.03) rotate(90) scale(8.6280,8.8500)"><path transform="translate(0.000,0)" d="M0.25 -0.54 A0.22 0.23 0 1 1 0.25 -1 A0.22 0.23 0 1 1 0.25 -0.54 A0.25 0.27 0 1 0 0.25 0 A0.25 0.27 0 1 0 0.25 -0.54 Z"/><path transform="translate(0.760,0)" d="M0.1 -0.06 L0.0 0.18"/><path transform="translate(1.140,0)" d="M0.47 -1 L0.06 -1 L0.03 -0.56 A0.26 0.29 0 1 1 0.0 -0.14"/></g>
<g class="sf" transform="translate(486.43,474.93) rotate(90) scale(8.5000,8.4500)"><path transform="translate(0.000,0)" d="M0.45 -0.96 C0.2 -0.92 0.0 -0.66 0.0 -0.3 A0.25 0.3 0 0 0 0.5 -0.3 A0.25 0.3 0 0 0 0.0 -0.3"/></g>
<g class="sf" transform="translate(480.93,818.42) rotate(90) scale(8.6702,8.6500)"><path transform="translate(0.000,0)" d="M0.36 -0.81 A0.36 0.35 0 1 1 0.36 -0.11 A0.36 0.35 0 1 1 0.36 -0.81 M0.1 0.1 L0.62 -1.02"/><path transform="translate(0.980,0)" d="M0.02 -0.78 L0.3 -1 L0.3 0"/><path transform="translate(1.560,0)" d="M0 -0.72 A0.25 0.28 0 0 1 0.5 -0.72 L0.5 -0.28 A0.25 0.28 0 0 1 0 -0.28 Z"/><path transform="translate(2.320,0)" d="M0.01 -0.76 A0.245 0.25 0 0 1 0.5 -0.74 C0.5 -0.56 0.38 -0.45 0.0 0 L0.52 0"/></g>
<g class="sf" transform="translate(176.12,827.52) rotate(90) scale(8.5651,10.0500)"><path transform="translate(0.000,0)" d="M0.36 -0.81 A0.36 0.35 0 1 1 0.36 -0.11 A0.36 0.35 0 1 1 0.36 -0.81 M0.1 0.1 L0.62 -1.02"/><path transform="translate(0.980,0)" d="M0.02 -0.84 A0.24 0.2 0 0 1 0.47 -0.77 A0.23 0.23 0 0 1 0.2 -0.55 A0.26 0.28 0 0 1 0.5 -0.27 A0.25 0.27 0 0 1 0.0 -0.17"/><path transform="translate(1.740,0)" d="M0.02 -0.84 A0.24 0.2 0 0 1 0.47 -0.77 A0.23 0.23 0 0 1 0.2 -0.55 A0.26 0.28 0 0 1 0.5 -0.27 A0.25 0.27 0 0 1 0.0 -0.17"/><path transform="translate(2.500,0)" d="M0.1 -0.06 L0.0 0.18"/><path transform="translate(2.880,0)" d="M0.47 -1 L0.06 -1 L0.03 -0.56 A0.26 0.29 0 1 1 0.0 -0.14"/></g>
<g class="sf" transform="translate(149.93,776.52) rotate(90) scale(9.1906,8.0500)"><path transform="translate(0.000,0)" d="M0.45 -0.96 C0.2 -0.92 0.0 -0.66 0.0 -0.3 A0.25 0.3 0 0 0 0.5 -0.3 A0.25 0.3 0 0 0 0.0 -0.3"/><path transform="translate(0.760,0)" d="M0.04 -0.42 L0.34 -0.42"/><path transform="translate(1.400,0)" d="M0 0 L0 -1 L0.31 -0.3 L0.62 -1 L0.62 0"/><path transform="translate(2.280,0)" d="M0.02 -0.84 A0.24 0.2 0 0 1 0.47 -0.77 A0.23 0.23 0 0 1 0.2 -0.55 A0.26 0.28 0 0 1 0.5 -0.27 A0.25 0.27 0 0 1 0.0 -0.17"/></g>
<g class="sf" transform="translate(133.03,794.02) rotate(90) scale(9.7000,8.4500)"><path transform="translate(0.000,0)" d="M0.45 -0.96 C0.2 -0.92 0.0 -0.66 0.0 -0.3 A0.25 0.3 0 0 0 0.5 -0.3 A0.25 0.3 0 0 0 0.0 -0.3"/></g>
<g class="sf" transform="translate(507.23,776.42) rotate(90) scale(8.7232,9.1500)"><path transform="translate(0.000,0)" d="M0.02 -0.78 L0.3 -1 L0.3 0"/><path transform="translate(0.580,0)" d="M0.01 -0.76 A0.245 0.25 0 0 1 0.5 -0.74 C0.5 -0.56 0.38 -0.45 0.0 0 L0.52 0"/><path transform="translate(1.340,0)" d="M0.04 -0.42 L0.34 -0.42"/><path transform="translate(1.980,0)" d="M0.36 -0.81 A0.36 0.35 0 1 1 0.36 -0.11 A0.36 0.35 0 1 1 0.36 -0.81 M0.1 0.1 L0.62 -1.02"/><path transform="translate(2.960,0)" d="M0.14 -1 L0.0 -0.3 L0.52 -0.3 M0.4 -0.62 L0.4 0"/><path transform="translate(3.740,0)" d="M0.06 -0.09 L0.09 0"/><path transform="translate(4.160,0)" d="M0.47 -1 L0.06 -1 L0.03 -0.56 A0.26 0.29 0 1 1 0.0 -0.14"/></g>
</svg>
</body></html>
